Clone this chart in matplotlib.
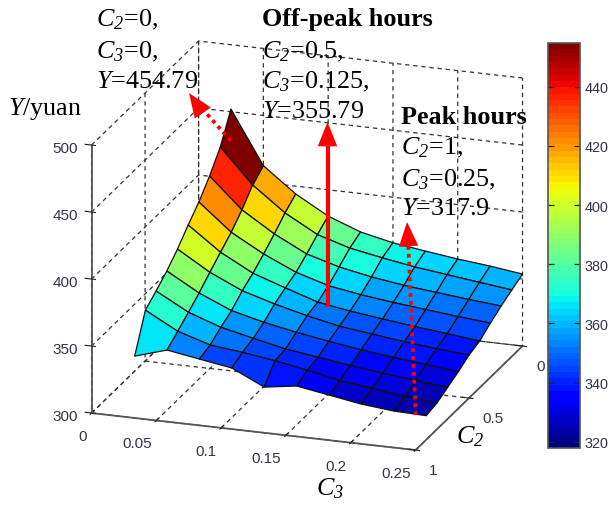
"""Surface of daily cost Y against C2 and C3, with the three marked operating points."""

import matplotlib

matplotlib.use("Agg")

import matplotlib.pyplot as plt
import numpy as np
from matplotlib.cm import ScalarMappable
from matplotlib.colors import Normalize
from matplotlib.transforms import ScaledTranslation

FIG_W, FIG_H = 610, 506
DPI = 100

plt.rcParams["font.family"] = ["Liberation Sans", "DejaVu Sans"]
plt.rcParams["mathtext.fontset"] = "custom"
plt.rcParams["mathtext.rm"] = "Liberation Serif"
plt.rcParams["mathtext.it"] = "Liberation Serif:italic"
plt.rcParams["mathtext.cal"] = "Liberation Serif:italic"  # keeps digits italic too

C3_VALUES = [0.025, 0.05, 0.075, 0.1, 0.125, 0.15, 0.175, 0.2, 0.225, 0.25]
C2_VALUES = [0.0, 0.1, 0.2, 0.3, 0.4, 0.5, 0.6, 0.7, 0.8, 0.9]

# one row per C2 value, one column per C3 value
Y_C2_00 = [452.0, 412.5, 394.1, 380.4, 371.3, 366.0, 362.6, 359.4, 356.9, 353.7]
Y_C2_01 = [431.4, 405.8, 387.7, 374.3, 367.0, 362.5, 358.5, 355.5, 352.5, 349.6]
Y_C2_02 = [417.5, 395.0, 379.8, 367.6, 360.7, 356.0, 352.5, 350.0, 347.5, 345.4]
Y_C2_03 = [405.9, 386.0, 372.6, 361.7, 354.5, 350.5, 347.5, 345.0, 342.5, 340.4]
Y_C2_04 = [396.5, 378.9, 366.0, 357.8, 350.0, 346.0, 343.0, 340.0, 337.5, 334.8]
Y_C2_05 = [386.3, 371.7, 360.7, 353.6, 347.6, 342.5, 339.5, 336.5, 334.0, 332.1]
Y_C2_06 = [377.7, 364.0, 353.6, 347.7, 343.0, 339.0, 335.5, 332.5, 330.0, 327.4]
Y_C2_07 = [370.5, 357.4, 349.0, 343.5, 338.3, 335.0, 331.5, 328.5, 326.0, 323.5]
Y_C2_08 = [364.0, 351.0, 343.5, 340.8, 337.3, 333.0, 328.0, 325.0, 322.0, 319.6]
Y_C2_09 = [337.5, 344.8, 340.8, 336.9, 325.4, 329.0, 325.0, 321.0, 318.6, 317.9]

C3_TICKS = [0, 0.05, 0.1, 0.15, 0.2, 0.25]
C3_TICK_LABELS = ["0", "0.05", "0.1", "0.15", "0.2", "0.25"]
C2_TICKS = [0, 0.5, 1]
C2_TICK_LABELS = ["0", "0.5", "1"]
Y_TICKS = [300, 350, 400, 450, 500]
BAR_TICKS = [320, 340, 360, 380, 400, 420, 440]

Y_MIN, Y_MAX = 317.9, 454.79
FACE_MAX = 448  # the faces run a little hotter than their height against the bar

AXIS_GREY = "#555555"
LABEL_GREY = "#33334a"
RED = "#ff0000"


def serif(overlay, x, y, text, size=18.8, **kw):
    overlay.text(x, y, text, fontsize=size, family="Liberation Serif",
                 va="baseline", ha="left", color="black", **kw)


def red_head(overlay, base, tip, width):
    overlay.annotate(
        "", xy=tip, xytext=base,
        arrowprops=dict(arrowstyle="-|>,head_length=%.2f,head_width=%.2f" % (1.25, width),
                        color=RED, lw=0, shrinkA=0, shrinkB=0, mutation_scale=14),
    )


def nudge_labels(axis, dx_px, dy_px, ha):
    """Shift tick labels by a fixed pixel offset (y up) and set their alignment."""
    offset = ScaledTranslation(dx_px / DPI, dy_px / DPI, fig.dpi_scale_trans)
    for tick in axis.get_major_ticks():
        tick.label1.set_transform(tick.label1.get_transform() + offset)
        tick.label1.set_ha(ha)


surface = np.array([Y_C2_00, Y_C2_01, Y_C2_02, Y_C2_03, Y_C2_04,
                    Y_C2_05, Y_C2_06, Y_C2_07, Y_C2_08, Y_C2_09])
c3_grid, c2_grid = np.meshgrid(C3_VALUES, C2_VALUES)

cmap = plt.get_cmap("jet", 64)
face_colors = cmap(Normalize(Y_MIN, FACE_MAX)(surface))

fig = plt.figure(figsize=(FIG_W / DPI, FIG_H / DPI), dpi=DPI)

# Square 3D axes sized so the orthographic box lands on the reference corners.
ax = fig.add_axes([50.3 / FIG_W, 2.7 / FIG_H, 500 / FIG_W, 500 / FIG_H],
                  projection="3d", proj_type="ortho", facecolor="none")
ax.view_init(elev=19.47, azim=-71.08)
ax.set_box_aspect((342.5, 330, 284.3), zoom=1.0757)
ax.set_xlim(0, 0.25, view_margin=0)
ax.set_ylim(1, 0, view_margin=0)
ax.set_zlim(300, 500, view_margin=0)

ax.plot_surface(c3_grid, c2_grid, surface, facecolors=face_colors,
                rstride=1, cstride=1, shade=False, edgecolor="#101010",
                linewidth=0.9, antialiased=True)

ax.set_xticks(C3_TICKS, C3_TICK_LABELS)
ax.set_yticks(C2_TICKS, C2_TICK_LABELS)
ax.set_zticks(Y_TICKS)
ax.tick_params(labelsize=11, labelcolor=LABEL_GREY, color="#222222", pad=0)
ax.zaxis.set_tick_params(label1On=False)

ax.zaxis._axinfo["juggled"] = (1, 2, 0)  # z axis up the front-left corner
for axis in (ax.xaxis, ax.yaxis, ax.zaxis):
    axis.set_pane_color((1, 1, 1, 0))
    axis.pane.set_edgecolor("none")
    axis.line.set_color(AXIS_GREY)
    axis.line.set_linewidth(1.3)
    axis._axinfo["grid"].update(color="#333333", linewidth=0.9, linestyle=(0, (3.5, 3)))
    axis._axinfo["tick"].update(inward_factor=0.15, outward_factor=0.25)

nudge_labels(ax.xaxis, -16, 5, "right")
nudge_labels(ax.yaxis, 5.5, 9.5, "left")

# z tick labels would not take the offset, so they sit just left of the axis in data space
for y_tick in Y_TICKS:
    ax.text(-0.007, 1.04, y_tick, str(y_tick), ha="right", va="center",
            fontsize=11, color=LABEL_GREY)

# Overlay in reference pixels for the hand-placed labels and arrows.
overlay = fig.add_axes([0, 0, 1, 1], facecolor="none")
overlay.set_xlim(0, FIG_W)
overlay.set_ylim(FIG_H, 0)
overlay.axis("off")

serif(overlay, 96, 26, r"$\mathcal{C}_{\mathcal{2}}$=0,")
serif(overlay, 96, 58, r"$\mathcal{C}_{\mathcal{3}}$=0,")
serif(overlay, 96, 88, r"$\mathcal{Y}$=454.79")
serif(overlay, 262, 26, "Off-peak hours", weight="bold")
serif(overlay, 262, 58, r"$\mathcal{C}_{\mathcal{2}}$=0.5,")
serif(overlay, 262, 88, r"$\mathcal{C}_{\mathcal{3}}$=0.125,")
serif(overlay, 262, 118, r"$\mathcal{Y}$=355.79")
serif(overlay, 401, 124, "Peak hours", weight="bold")
serif(overlay, 401, 154, r"$\mathcal{C}_{\mathcal{2}}$=1,")
serif(overlay, 401, 186, r"$\mathcal{C}_{\mathcal{3}}$=0.25,")
serif(overlay, 401, 215, r"$\mathcal{Y}$=317.9")
serif(overlay, 8, 115, r"$\mathcal{Y}$/yuan")
serif(overlay, 316, 495, r"$\mathcal{C}_{\mathcal{3}}$")
serif(overlay, 456, 443, r"$\mathcal{C}_{\mathcal{2}}$")

# Solid arrow to the off-peak label, dotted ones to the other two.
overlay.plot([327.5, 327.5], [308, 140], color=RED, lw=3, solid_capstyle="butt")
red_head(overlay, (327.5, 141), (327.5, 123), 0.5)
overlay.plot([230.7, 198], [141.7, 105], color=RED, lw=2.7, linestyle=(0, (1, 1.1)))
red_head(overlay, (198, 107), (189, 94), 0.5)
overlay.plot([415.7, 408], [416, 238], color=RED, lw=2.7, linestyle=(0, (1, 1.1)))
red_head(overlay, (408, 238), (407, 223), 0.5)

# Colour bar.
cax = fig.add_axes([548 / FIG_W, 1 - 449 / FIG_H, 32 / FIG_W, 405 / FIG_H])
bar = fig.colorbar(ScalarMappable(norm=Normalize(Y_MIN, Y_MAX), cmap=cmap), cax=cax, ticks=BAR_TICKS)
bar.outline.set_edgecolor(AXIS_GREY)
bar.outline.set_linewidth(1.2)
cax.yaxis.set_ticks_position("both")
cax.tick_params(direction="in", length=4, width=0.9, color="#222222",
                labelsize=10.4, labelcolor=LABEL_GREY, labelleft=False, labelright=True, pad=3)

fig.savefig("out.png", dpi=DPI)
